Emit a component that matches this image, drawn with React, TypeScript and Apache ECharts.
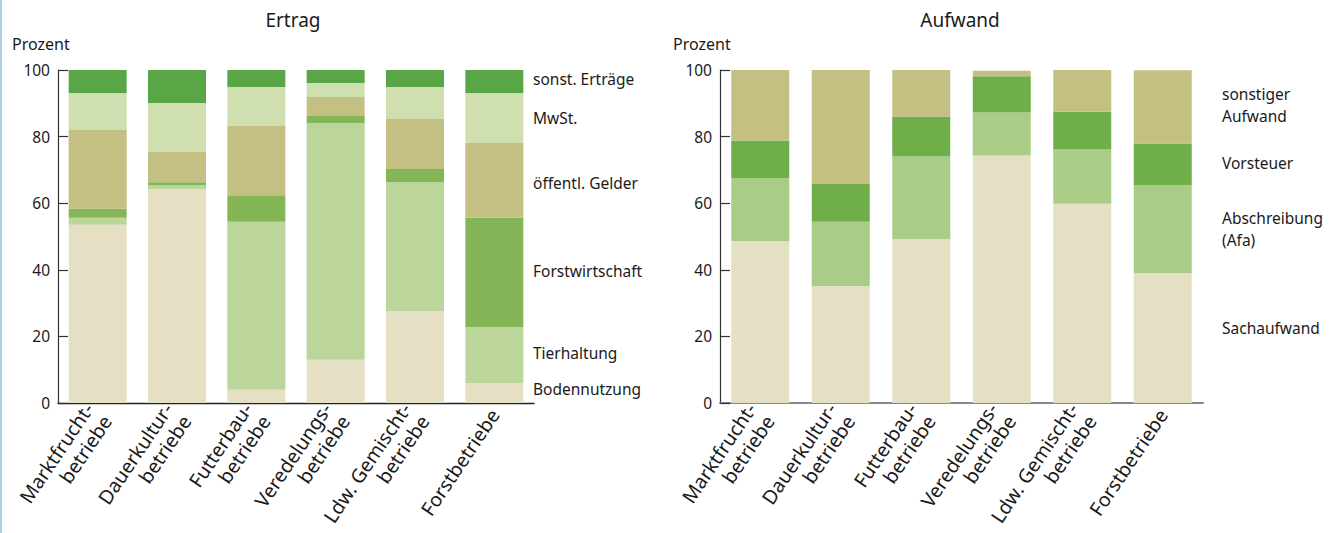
import React, { useEffect, useRef } from "react";
import * as echarts from "echarts";

// Categories (farm types)
const categories = [
  "Marktfrucht-\nbetriebe",
  "Dauerkultur-\nbetriebe",
  "Futterbau-\nbetriebe",
  "Veredelungs-\nbetriebe",
  "Ldw. Gemischt-\nbetriebe",
  "Forstbetriebe",
];

// Ertrag (percent), bottom to top
const bodennutzung = [53.5, 64.3, 4.0, 13.0, 27.6, 6.0];
const tierhaltung = [2.1, 1.1, 50.4, 71.1, 38.8, 16.8];
const forstwirtschaft = [2.7, 0.9, 8.0, 2.1, 3.9, 32.8];
const oeffentlGelder = [23.7, 9.1, 20.8, 5.7, 15.0, 22.5];
const mwst = [11.1, 14.7, 11.7, 4.2, 9.6, 15.0];
const sonstErtraege = [6.9, 9.9, 5.1, 3.9, 5.1, 6.9];

// Aufwand (percent), bottom to top
const sachaufwand = [48.6, 35.1, 49.2, 74.3, 59.8, 39.0];
const abschreibung = [19.0, 19.3, 24.8, 12.9, 16.3, 26.5];
const vorsteuer = [11.2, 11.4, 12.0, 10.9, 11.4, 12.4];
const sonstigerAufwand = [21.2, 34.2, 14.0, 1.7, 12.5, 22.0];

const ertragNames = ["Bodennutzung", "Tierhaltung", "Forstwirtschaft", "öffentl. Gelder", "MwSt.", "sonst. Erträge"];
const ertragData = [bodennutzung, tierhaltung, forstwirtschaft, oeffentlGelder, mwst, sonstErtraege];
const ertragColors = ["#e5e0c3", "#bcd59b", "#84b657", "#c4bf82", "#cfdfb0", "#58a646"];
const ertragLabelY = [389, 353, 271, 183, 118, 79];

const aufwandNames = ["Sachaufwand", "Abschreibung\n(Afa)", "Vorsteuer", "sonstiger\nAufwand"];
const aufwandData = [sachaufwand, abschreibung, vorsteuer, sonstigerAufwand];
const aufwandColors = ["#e5e0c3", "#a9cc86", "#6fae48", "#c4c082"];
const aufwandLabelY = [328, 229, 163, 105];

const yTicks = { min: 0, max: 100, interval: 20 };

const FONT = '"Noto Sans", sans-serif';
const TXT = "#1a1a1a";

export default function App() {
  const ref = useRef<HTMLDivElement>(null);

  useEffect(() => {
    if (!ref.current) return;
    const chart = echarts.init(ref.current, null, { renderer: "svg" });

    const xAxisBase = (gridIndex: number, lineColor: string, lineWidth: number) => ({
      type: "category",
      gridIndex,
      data: categories,
      axisLine: { show: true, lineStyle: { color: lineColor, width: lineWidth } },
      axisTick: { show: false },
      axisLabel: {
        interval: 0,
        rotate: 56,
        fontSize: 19.5,
        lineHeight: 22,
        color: TXT,
        fontFamily: FONT,
        margin: 8,
      },
    });

    const yAxisBase = (gridIndex: number) => ({
      type: "value",
      gridIndex,
      min: yTicks.min,
      max: yTicks.max,
      interval: yTicks.interval,
      axisLine: { show: true, lineStyle: { color: "#333", width: 1.2 } },
      axisTick: { show: true, inside: true, length: 10, lineStyle: { color: "#333", width: 1.2 } },
      splitLine: { show: false },
      axisLabel: { fontSize: 15.5, color: TXT, fontFamily: FONT, margin: 8 },
    });

    const series: any[] = [];
    ertragData.forEach((d, i) => {
      series.push({
        type: "bar",
        name: ertragNames[i],
        stack: "ertrag",
        xAxisIndex: 0,
        yAxisIndex: 0,
        barWidth: 58,
        data: d,
        itemStyle: { color: ertragColors[i] },
      });
    });
    aufwandData.forEach((d, i) => {
      series.push({
        type: "bar",
        name: aufwandNames[i],
        stack: "aufwand",
        xAxisIndex: 1,
        yAxisIndex: 1,
        barWidth: 58,
        data: d,
        itemStyle: { color: aufwandColors[i] },
      });
    });

    const text = (t: string, x: number, y: number, size: number, align = "left") => ({
      type: "text",
      x,
      y,
      style: {
        text: t,
        fontSize: size,
        fontFamily: FONT,
        fill: TXT,
        align,
        verticalAlign: "middle",
        lineHeight: 22,
      },
    });

    const graphics: any[] = [
      { type: "rect", shape: { x: 0, y: 0, width: 2, height: 533 }, style: { fill: "#a9d1ea" } },
      text("Ertrag", 293, 20, 19, "center"),
      text("Aufwand", 960, 20, 19, "center"),
      text("Prozent", 12, 44, 16),
      text("Prozent", 673, 44, 16),
    ];
    ertragNames.forEach((n, i) => graphics.push(text(n, 533, ertragLabelY[i], 15.5)));
    aufwandNames.forEach((n, i) => graphics.push(text(n, 1222, aufwandLabelY[i], 15.5)));

    chart.setOption({
      animation: false,
      backgroundColor: "#ffffff",
      textStyle: { fontFamily: FONT },
      grid: [
        { left: 58, top: 70, width: 476, height: 333, containLabel: false, outerBoundsMode: "none" },
        { left: 720, top: 70, width: 483, height: 333, containLabel: false, outerBoundsMode: "none" },
      ],
      xAxis: [xAxisBase(0, "#222", 1.3), xAxisBase(1, "#888", 2)],
      yAxis: [yAxisBase(0), yAxisBase(1)],
      series,
      graphic: graphics,
    });

    return () => chart.dispose();
  }, []);

  return (
    <div
      ref={ref}
      style={{ position: "fixed", left: 0, top: 0, width: 1343, height: 533 }}
    />
  );
}
